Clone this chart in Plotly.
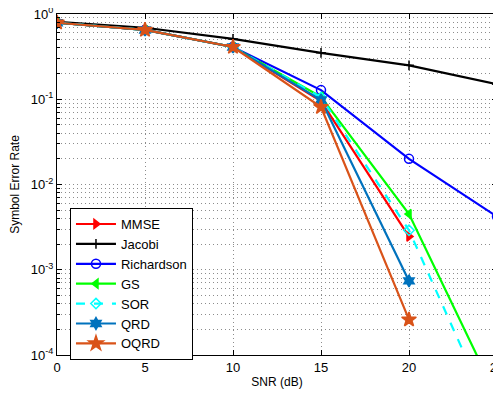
import plotly.graph_objects as go

snr = [0, 5, 10, 15, 20, 25]
mmse = [0.79, 0.65, 0.41, 0.095, 0.00245, None]
jacobi = [0.81, 0.69, 0.51, 0.35, 0.25, 0.15]
richardson = [0.79, 0.65, 0.41, 0.128, 0.020, 0.0042]
gs = [0.79, 0.65, 0.41, 0.107, 0.0045, 3.2e-5]
sor = [0.79, 0.65, 0.41, 0.105, 0.0029, 1.45e-5]
qrd = [0.79, 0.65, 0.41, 0.098, 0.00074, None]
oqrd = [0.79, 0.65, 0.41, 0.081, 0.00026, None]

series = [
    ("MMSE", mmse, "#FF0000", "triangle-right", "solid", 8),
    ("Jacobi", jacobi, "#000000", "cross-thin-open", "solid", 7),
    ("Richardson", richardson, "#0000FF", "circle-open", "solid", 9),
    ("GS", gs, "#00FF00", "triangle-left", "solid", 8),
    ("SOR", sor, "#00FFFF", "diamond-open", "dash", 8),
    ("QRD", qrd, "#0072BD", "hexagram", "solid", 9),
    ("OQRD", oqrd, "#D95319", "star", "solid", 11),
]

fig = go.Figure()
for name, vals, color, sym, dash, sz in series:
    fig.add_trace(go.Scatter(
        x=snr, y=vals, name=name, mode="lines+markers",
        line=dict(color=color, width=2.2, dash=dash),
        marker=dict(symbol=sym, size=sz, color=color,
                    line=dict(color=color, width=1.5)),
        connectgaps=False,
    ))

ytickvals = [1e-4, 1e-3, 1e-2, 1e-1, 1]
yticktext = ["10<sup>-4</sup>", "10<sup>-3</sup>", "10<sup>-2</sup>", "10<sup>-1</sup>", "10<sup>0</sup>"]
minor_vals = [m * 10 ** e for e in range(-4, 0) for m in range(2, 10)]

grid_col = "#8c8c8c"
grid_dash = "1px,3px"

fig.update_layout(
    width=493, height=388,
    margin=dict(l=49, r=4, t=6, b=41),
    paper_bgcolor="white", plot_bgcolor="white",
    font=dict(family="Liberation Sans, Arial, sans-serif", size=13, color="black"),
    showlegend=True,
    legend=dict(x=0.0295, y=0.431, xanchor="left", yanchor="top",
                bgcolor="white", bordercolor="black", borderwidth=1,
                font=dict(size=13), tracegroupgap=0, itemwidth=40),
)
fig.update_xaxes(
    range=[0, 25], tickvals=[0, 5, 10, 15, 20, 25], automargin=False,
    ticklabeloverflow="allow",
    tickfont=dict(size=13),
    title=dict(text="SNR (dB)", font=dict(size=12), standoff=3),
    showline=True, linecolor="black", linewidth=1.2, mirror="allticks",
    ticks="inside", ticklen=5, tickcolor="black",
    showgrid=True, gridcolor=grid_col, griddash=grid_dash, gridwidth=1,
    zeroline=False,
)
fig.update_yaxes(
    type="log", range=[-4, 0], tickvals=ytickvals, ticktext=yticktext,
    automargin=False, ticklabeloverflow="allow", tickfont=dict(size=13),
    title=dict(text="Symbol Error Rate", font=dict(size=12), standoff=9),
    showline=True, linecolor="black", linewidth=1.2, mirror="allticks",
    ticks="inside", ticklen=5, tickcolor="black",
    showgrid=True, gridcolor=grid_col, griddash=grid_dash, gridwidth=1,
    minor=dict(tickvals=minor_vals, showgrid=True, gridcolor=grid_col,
               griddash=grid_dash, gridwidth=1, ticks="inside", ticklen=3,
               tickcolor="black"),
    zeroline=False,
)

fig.write_html("out.html")
